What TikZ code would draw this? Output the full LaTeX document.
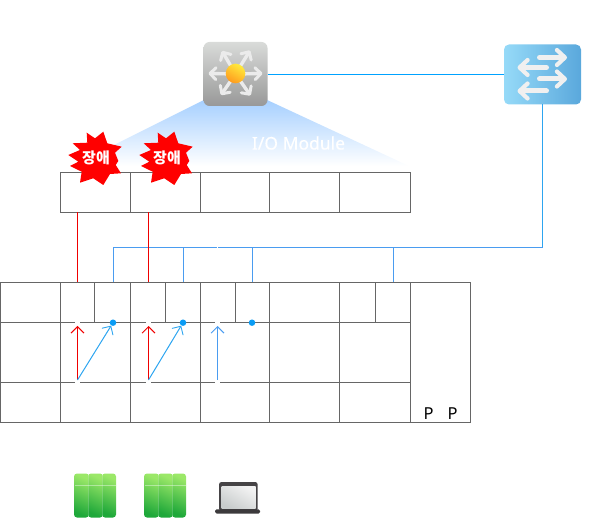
\documentclass[tikz,border=0pt]{standalone}
\usepackage{fontspec}
\setmainfont{Noto Sans}
\newfontfamily\krfont{Noto Sans CJK KR}
\usetikzlibrary{arrows.meta}
\definecolor{gridc}{HTML}{666666}
\definecolor{linkc}{HTML}{00A2FF}
\definecolor{busc}{HTML}{4A9CF0}
\definecolor{arrc}{HTML}{2DA5F0}
\definecolor{dotc}{HTML}{0A9CF5}
\definecolor{redc}{HTML}{F00000}
\definecolor{fantop}{HTML}{A5CFFF}
\definecolor{fanmid}{HTML}{E2EEFF}
\definecolor{coretop}{HTML}{D9DBD9}
\definecolor{corebot}{HTML}{989898}
\definecolor{arrowgrey}{HTML}{EBEBEB}
\definecolor{arrowlight}{HTML}{F0F0F0}
\definecolor{sunA}{HTML}{FFEB3C}
\definecolor{sunB}{HTML}{FF9B1E}
\definecolor{swL}{HTML}{96DAF8}
\definecolor{swR}{HTML}{5AA8DC}
\definecolor{grnD}{HTML}{1FA83A}
\definecolor{grnL}{HTML}{9BE868}
\definecolor{lapD}{HTML}{464446}
\definecolor{lapE}{HTML}{3C3A3C}
\definecolor{lapA}{HTML}{F2F2F2}
\definecolor{lapB}{HTML}{C8CCCC}
\tikzset{
  cellbox/.style={draw=gridc,line width=1pt,inner sep=0pt,outer sep=0pt,anchor=north west},
  link/.style={draw=linkc,line width=1pt},
  bus/.style={draw=busc,line width=1pt},
  redline/.style={draw=redc,line width=1pt},
  openarrow/.style={-{Straight Barb[length=6.5pt,width=13pt,line width=0.9pt]},line width=1pt},
  gap/.style={draw=white,line width=2.6pt},
  dotn/.style={circle,fill=dotc,inner sep=0pt,minimum size=6.5pt},
  corearrow/.style={draw=arrowgrey,line width=3.4pt,line cap=round,-{Straight Barb[length=6pt,width=12pt,line width=3pt,round]}},
  swarrow/.style={draw=arrowlight,line width=5pt,line cap=round,-{Straight Barb[length=8pt,width=15pt,line width=4.2pt,round]}},
  greencol/.style={rounded corners=3pt,bottom color=grnD,top color=grnL,shading angle=-25},
  pp/.style={font=\fontsize{16.5}{18}\selectfont,text=black,anchor=base,inner sep=0pt},
  fail/.style={font=\krfont\bfseries\fontsize{15}{17}\selectfont,text=white,inner sep=0pt}
}
\newcommand{\cellnode}[5]{\node[cellbox,minimum width=#4pt,minimum height=#5pt] (#1) at (#2,#3) {};}
\newcommand{\burst}[1]{%
  \fill[red,shift={(#1,158)}] (-27.7,-3) -- (-16,-8) -- (-23.3,-14.7) -- (-8.7,-15.3) -- (-9.3,-25.3) -- (-1,-19.7) -- (7.3,-26.3) -- (11.3,-14.7) -- (25.7,-11.3) -- (19,-5.3) -- (22.3,3) -- (19.7,7) -- (25,15.3) -- (14,16) -- (7.3,27) -- (-2.7,20.3) -- (-16,24.7) -- (-14.3,13.7) -- (-26,8) -- (-17.7,3.7) -- cycle;}
\newcommand{\greenserver}[1]{%
  \begin{scope}[shift={(#1,473.5)}]
    \shade[greencol] (0,0) rectangle (15,44);
    \shade[greencol] (14,0) rectangle (29,44);
    \shade[greencol] (28,0) rectangle (42,44);
    \draw[white,opacity=0.4,line width=0.8pt] (0.5,12) -- (41.5,12);
    \draw[white,opacity=0.2,line width=0.8pt] (14.5,0.5) -- (14.5,43.5) (28.5,0.5) -- (28.5,43.5);
  \end{scope}}
\begin{document}
\begin{tikzpicture}[x=1pt,y=-1pt]
\useasboundingbox (0,0) rectangle (597,518);
% fan
\shade[top color=fantop,middle color=fanmid,bottom color=white]
  (206,99) -- (72,166) -- (409,166) -- (265,99) -- cycle;
\node[text=white,font=\fontsize{17.5}{20}\selectfont\addfontfeature{FakeBold=0.4},inner sep=0pt] (iolabel) at (298.5,143) {I/O Module};
% core switch
\node[rounded corners=6pt,minimum width=64pt,minimum height=64pt,inner sep=0pt,outer sep=0pt,
  shading=axis,top color=coretop,bottom color=corebot] (core) at (235.5,74) {};
\foreach \tx/\ty in {208.5/73.5,262.5/73.5,222/51,250/50.5,221/95,250.5/95.5}
  \draw[corearrow] (235.5,74) -- (\tx,\ty);
\shade[top color=sunA,bottom color=sunB,shading angle=-30] (235.5,73.5) circle (9.8);
% access switch
\node[rounded corners=5pt,minimum width=77pt,minimum height=60pt,inner sep=0pt,outer sep=0pt,
  left color=swL,right color=swR] (sw) at (542.5,74.5) {};
\foreach \xa/\xb/\yy in {539.5/567/57.5,546.5/517.5/67.5,539.5/567/79,546.5/517.5/91}
  \draw[swarrow] (\xa,\yy) -- (\xb,\yy);
% I/O row
\cellnode{io1}{60.5}{172.5}{70}{40}
\cellnode{io2}{130.5}{172.5}{70}{40}
\cellnode{io3}{200.5}{172.5}{69}{40}
\cellnode{io4}{269.5}{172.5}{70}{40}
\cellnode{io5}{339.5}{172.5}{71}{40}
% grid row 1
\cellnode{ra}{0.5}{282.5}{60}{40}
\cellnode{rb}{60.5}{282.5}{34}{40}
\cellnode{rc}{94.5}{282.5}{36}{40}
\cellnode{rd}{130.5}{282.5}{35}{40}
\cellnode{re}{165.5}{282.5}{35}{40}
\cellnode{rf}{200.5}{282.5}{35}{40}
\cellnode{rg}{235.5}{282.5}{34}{40}
\cellnode{rh}{269.5}{282.5}{70}{40}
\cellnode{ri}{339.5}{282.5}{36}{40}
\cellnode{rj}{375.5}{282.5}{35}{40}
\cellnode{pw}{410.5}{282.5}{60}{140}
% row 2
\cellnode{ma}{0.5}{322.5}{60}{60}
\cellnode{mb}{60.5}{322.5}{70}{60}
\cellnode{mc}{130.5}{322.5}{70}{60}
\cellnode{md}{200.5}{322.5}{69}{60}
\cellnode{me}{269.5}{322.5}{70}{60}
\cellnode{mf}{339.5}{322.5}{71}{60}
% row 3
\cellnode{la}{0.5}{382.5}{60}{40}
\cellnode{lb}{60.5}{382.5}{70}{40}
\cellnode{lc}{130.5}{382.5}{70}{40}
\cellnode{ld}{200.5}{382.5}{69}{40}
\cellnode{le}{269.5}{382.5}{70}{40}
\cellnode{lf}{339.5}{382.5}{71}{40}
% breaks in the grid
\foreach \gx in {77.5,148,217.5} {
  \draw[gap] (\gx-2.5,322.5) -- (\gx+2.5,322.5);
  \draw[gap] (\gx-2.5,382.5) -- (\gx+2.5,382.5);
}
% named connection points
\coordinate (r1t) at (77.5,212.5);   \coordinate (r1b) at (77.5,282.5);
\coordinate (r2t) at (148.5,212.5);  \coordinate (r2b) at (148.5,282.5);
\coordinate (busL) at (113.5,247.5); \coordinate (busR) at (542.5,247.5);
\coordinate (d1) at (113.5,282.5);   \coordinate (t2) at (183.5,247.5); \coordinate (d2) at (183.5,282.5);
\coordinate (t3) at (252.5,247.5);   \coordinate (d3) at (252.5,282.5);
\coordinate (t4) at (393.5,247.5);   \coordinate (d4) at (393.5,282.5);
\coordinate (swb) at (542.5,104.5);
\coordinate (coreE) at (267.5,74.5);
\coordinate (swW) at (504,74.5);
% links
\draw[link] (coreE) -- (swW);
\draw[arrc,line width=1pt] (swb) -- (busR);
\draw[bus] (d1) -- (busL) -- (busR);
\draw[draw=white,line width=1.4pt] (216.7,247.5) -- (218,247.5);
\draw[bus] (t2) -- (d2);
\draw[bus] (t3) -- (d3);
\draw[bus] (t4) -- (d4);
\draw[redline] (r1t) -- (r1b);
\draw[redline] (r2t) -- (r2b);
% inner arrows
\coordinate (a1s) at (77.5,380); \coordinate (a1e) at (77.5,326);
\coordinate (a2s) at (148.5,380); \coordinate (a2e) at (148.5,326);
\coordinate (a3s) at (217.5,380); \coordinate (a3e) at (217.5,326);
\node[dotn] (dot1) at (113,322.7) {};
\node[dotn] (dot2) at (183,322.7) {};
\node[dotn] (dot3) at (252,322.7) {};
\draw[redc,openarrow] (a1s) -- (a1e);
\draw[redc,openarrow] (a2s) -- (a2e);
\draw[busc,openarrow] (a3s) -- (a3e);
\draw[arrc,openarrow] (a1s) -- (dot1);
\draw[arrc,openarrow] (a2s) -- (dot2);
% failure bursts
\burst{96}
\burst{167}
\node[fail] (f1) at (96,158) {장애};
\node[fail] (f2) at (167,158) {장애};
% labels
\node[pp] (p1) at (428.5,419.3) {P};
\node[pp] (p2) at (452.5,419.3) {P};
% end devices
\greenserver{74}
\greenserver{144}
\fill[rounded corners=2.5pt,fill=lapD] (219,482) rectangle (257.7,511);
\shade[top color=lapA,bottom color=lapB,shading angle=-30] (221.5,486.5) rectangle (255.5,508.7);
\fill[rounded corners=1.5pt,fill=lapE] (215,509.3) rectangle (260,513.5);
\end{tikzpicture}
\end{document}
